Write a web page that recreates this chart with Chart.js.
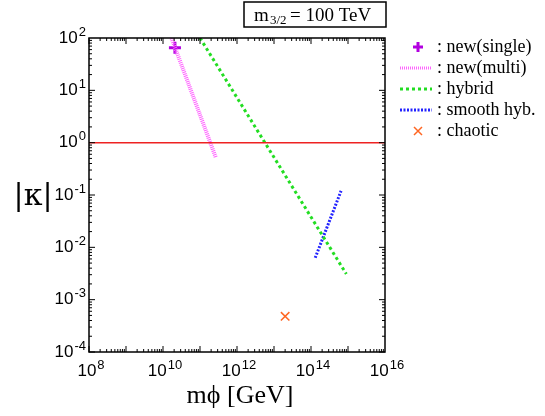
<!DOCTYPE html>
<html><head><meta charset="utf-8">
<script src="https://cdn.jsdelivr.net/npm/chart.js@4"></script>
<style>html,body{margin:0;padding:0;background:#fff}#w{width:545px;height:416px}</style>
</head><body><div id="w"><canvas id="c"></canvas></div>
<script>
const newSingle=[{x:2.1e10,y:65}];
const newMulti=[{x:1.7e10,y:100},{x:2.7e11,y:0.51}];
const hybrid=[{x:1.0e11,y:100},{x:9e14,y:3.1e-3}];
const smoothHyb=[{x:1.3e14,y:6.3e-3},{x:6.5e14,y:0.12}];
const chaotic=[{x:2e13,y:4.8e-4}];
const unityLine=[{x:1e8,y:1},{x:1e16,y:1}];
const xTicks=[8,10,12,14,16];
const yTicks=[-4,-3,-2,-1,0,1,2];
const legendItems=[
 {label:': new(single)',type:'plus',color:'#b200e0'},
 {label:': new(multi)',type:'line',color:'#ff66ff',dash:[1,1]},
 {label:': hybrid',type:'line',color:'#22dd22',dash:[3,3]},
 {label:': smooth hyb.',type:'line',color:'#2222ff',dash:[2,1.5]},
 {label:': chaotic',type:'cross',color:'#ff6622'}];
function pow10(g,e,x,y,align){
 g.font='17px "Liberation Sans"';const b='10',w1=g.measureText(b).width;
 g.font='13px "Liberation Sans"';const s=String(e).replace('-','-'),w2=g.measureText(s).width;
 const W=w1+w2+1;let x0=align=='right'?x-W:x-W/2;
 g.textAlign='left';g.textBaseline='middle';
 g.font='17px "Liberation Sans"';g.fillText(b,x0,y);
 g.font='13px "Liberation Sans"';g.fillText(s,x0+w1+1,y-6);
}
const deco={id:'deco',afterDraw(ch){
 const g=ch.ctx,a=ch.chartArea,xs=ch.scales.x,ys=ch.scales.y;
 g.save();g.strokeStyle='#000';g.lineWidth=1.5;g.strokeRect(a.left,a.top,a.right-a.left,a.bottom-a.top);
 g.lineWidth=1;
 for(let e=8;e<16;e++)for(let m=1;m<10;m++){const v=m*Math.pow(10,e);const p=xs.getPixelForValue(v);const L=m==1?6:3;
  g.beginPath();g.moveTo(p,a.bottom);g.lineTo(p,a.bottom-L);g.moveTo(p,a.top);g.lineTo(p,a.top+L);g.stroke();}
 for(let e=-4;e<2;e++)for(let m=1;m<10;m++){const v=m*Math.pow(10,e);const p=ys.getPixelForValue(v);const L=m==1?6:3;
  g.beginPath();g.moveTo(a.left,p);g.lineTo(a.left+L,p);g.moveTo(a.right,p);g.lineTo(a.right-L,p);g.stroke();}
 g.fillStyle='#000';
 xTicks.forEach(e=>pow10(g,e,xs.getPixelForValue(Math.pow(10,e))+2,a.bottom+19,'center'));
 yTicks.forEach(e=>pow10(g,e,a.left-3,ys.getPixelForValue(Math.pow(10,e)),'right'));
 g.font='26px "Liberation Serif"';g.textAlign='center';g.textBaseline='middle';
 g.fillText('mϕ [GeV]',240,396);
 g.font='30px "DejaVu Serif"';g.fillText('|κ|',33,197);
 g.lineWidth=1.5;g.strokeRect(244,2,142,25);
 g.font='19px "Liberation Serif"';g.textAlign='left';g.textBaseline='alphabetic';
 g.fillText('m',254,21);g.font='13px "Liberation Serif"';g.fillText('3/2',270,24);
 g.font='19px "Liberation Serif"';g.fillText('= 100 TeV',290,21);
 legendItems.forEach((it,i)=>{const y=47+i*21;g.strokeStyle=it.color;g.fillStyle=it.color;
  if(it.type=='plus'){g.lineWidth=3;g.setLineDash([]);g.beginPath();g.moveTo(413,y);g.lineTo(423,y);g.moveTo(418,y-5);g.lineTo(418,y+5);g.stroke();}
  else if(it.type=='cross'){g.lineWidth=1.5;g.setLineDash([]);g.beginPath();g.moveTo(414,y-4);g.lineTo(422,y+4);g.moveTo(422,y-4);g.lineTo(414,y+4);g.stroke();}
  else{g.lineWidth=3;g.setLineDash(it.dash);g.beginPath();g.moveTo(400,y);g.lineTo(432,y);g.stroke();}
  g.setLineDash([]);g.fillStyle='#000';g.font='18px "Liberation Serif"';g.textBaseline='middle';g.textAlign='left';g.fillText(it.label,437,y);});
 g.restore();}};
const mk=(label,data,color,opts)=>Object.assign({label,data,borderColor:color,backgroundColor:color,showLine:true,pointRadius:0,borderWidth:3,fill:false},opts);
new Chart(document.getElementById('c'),{type:'scatter',
 data:{datasets:[
  mk('unity',unityLine,'#ee2222',{borderWidth:1.5}),
  mk('new(multi)',newMulti,'#ff66ff',{borderDash:[1,1],borderWidth:4}),
  mk('hybrid',hybrid,'#22dd22',{borderDash:[3,3]}),
  mk('smooth hyb.',smoothHyb,'#2222ff',{borderDash:[2,1.5]}),
  mk('new(single)',newSingle,'#b200e0',{showLine:false,pointStyle:'cross',pointRadius:6,borderWidth:3}),
  mk('chaotic',chaotic,'#ff6622',{showLine:false,pointStyle:'crossRot',pointRadius:6,borderWidth:1.5})]},
 options:{responsive:true,maintainAspectRatio:false,animation:false,
  layout:{padding:{left:89,right:160,top:38,bottom:64}},
  plugins:{legend:{display:false},tooltip:{enabled:false}},
  scales:{
   x:{type:'logarithmic',min:1e8,max:1e16,ticks:{display:false},grid:{display:false,drawTicks:false},border:{display:false},afterFit(s){s.height=0;}},
   y:{type:'logarithmic',min:1e-4,max:1e2,ticks:{display:false},grid:{display:false,drawTicks:false},border:{display:false},afterFit(s){s.width=0;}}}},
 plugins:[deco]});
</script></body></html>
